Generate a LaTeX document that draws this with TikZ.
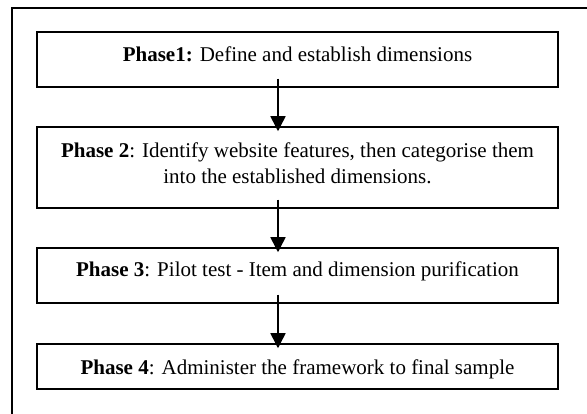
\documentclass[tikz,border=0pt]{standalone}
\usepackage{fontspec}
\setmainfont{Liberation Serif}
\usetikzlibrary{arrows.meta}
\begin{document}
\begin{tikzpicture}[x=1pt,y=-1pt,
  phasebox/.style={draw,line width=1.5pt,rectangle,minimum width=521pt,inner sep=0pt},
  phasetext/.style={inner sep=0pt,align=center,anchor=base,font=\fontsize{21}{26}\selectfont},
  flow/.style={line width=1.5pt,-{Triangle[width=15pt,length=15pt]}}]
\useasboundingbox (0,0) rectangle (587,414);
% frame around the figure
\draw[line width=1.5pt] (12,420) -- (12,8) -- (600,8);
% phase boxes
\node[phasebox,minimum height=55pt] (p1) at (297.5,59.5) {};
\node[phasebox,minimum height=81pt] (p2) at (297.5,167.5) {};
\node[phasebox,minimum height=55pt] (p3) at (297.5,275.5) {};
\node[phasebox,minimum height=45pt] (p4) at (297.5,366.5) {};
% box texts, placed on their (last) baselines
\node[phasetext] (t1) at (297.5,62) {\textbf{Phase1:} Define and establish dimensions};
\node[phasetext] (t2) at (297.5,184) {\textbf{Phase 2}: Identify website features, then categorise them\\into the established dimensions.};
\node[phasetext] (t3) at (297.5,277) {\textbf{Phase 3}: Pilot test - Item and dimension purification};
\node[phasetext] (t4) at (297.5,374) {\textbf{Phase 4}: Administer the framework to final sample};
% connectors
\draw[flow] ([xshift=-19.5pt,yshift=9pt]p1.south) -- ([xshift=-19.5pt,yshift=-5pt]p2.north);
\draw[flow] ([xshift=-19.5pt,yshift=9pt]p2.south) -- ([xshift=-19.5pt,yshift=-5pt]p3.north);
\draw[flow] ([xshift=-19.5pt,yshift=9pt]p3.south) -- ([xshift=-19.5pt,yshift=-5pt]p4.north);
\end{tikzpicture}
\end{document}
